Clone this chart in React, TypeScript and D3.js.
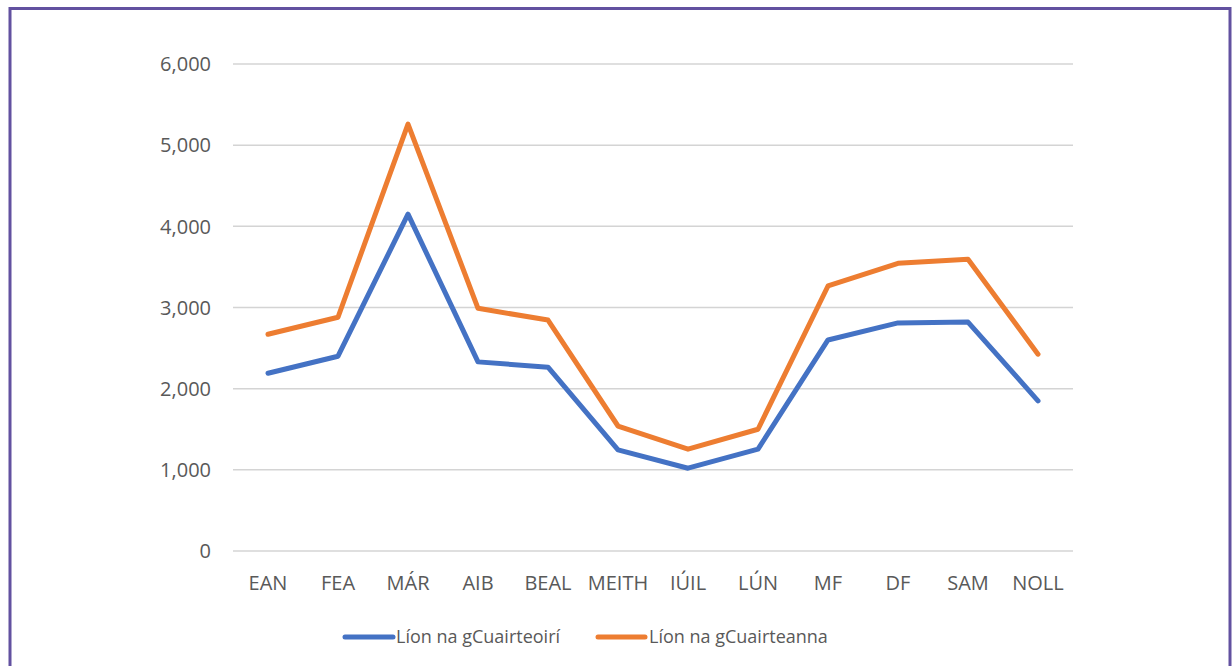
import React from "react";
import * as d3 from "d3";

const months = ["EAN", "FEA", "MÁR", "AIB", "BEAL", "MEITH", "IÚIL", "LÚN", "MF", "DF", "SAM", "NOLL"];
const visitors = [2190, 2400, 4150, 2330, 2265, 1245, 1020, 1255, 2600, 2810, 2820, 1850];
const visits = [2670, 2880, 5260, 2990, 2845, 1540, 1255, 1500, 3265, 3545, 3595, 2425];
const yTicks = [0, 1000, 2000, 3000, 4000, 5000, 6000];
const seriesNames = ["Líon na gCuairteoirí", "Líon na gCuairteanna"];
const seriesColors = ["#4472c4", "#ed7d31"];

export default function App() {
  const W = 1232, H = 666;
  const x = d3.scaleBand<string>().domain(months).range([233, 1073]);
  const y = d3.scaleLinear().domain([0, 6000]).range([551, 64]);
  const fmt = d3.format(",");
  const line = d3
    .line<number>()
    .x((_, i) => (x(months[i]) as number) + x.bandwidth() / 2)
    .y((d) => y(d));
  const font = "'Open Sans', sans-serif";
  const textColor = "#595959";
  const legend = [
    { x1: 345, x2: 393, tx: 396 },
    { x1: 598, x2: 645, tx: 649 },
  ];
  return (
    <svg
      width={W}
      height={H}
      style={{ position: "absolute", left: 0, top: 0, background: "#fff" }}
    >
      <rect x={10} y={8.5} width={1220} height={700} fill="#fff" stroke="#6251a0" strokeWidth={3} />
      {yTicks.map((t) => (
        <g key={t}>
          <line x1={233} x2={1073} y1={y(t)} y2={y(t)} stroke="#d4d4d4" strokeWidth={1.5} />
          <text
            x={211}
            y={y(t)}
            dy="0.36em"
            textAnchor="end"
            fontFamily={font}
            fontSize={20}
            fill={textColor}
          >
            {fmt(t)}
          </text>
        </g>
      ))}
      {months.map((m) => (
        <text
          key={m}
          x={(x(m) as number) + x.bandwidth() / 2}
          y={590}
          textAnchor="middle"
          fontFamily={font}
          fontSize={20}
          fill={textColor}
        >
          {m}
        </text>
      ))}
      {[visitors, visits].map((s, i) => (
        <path
          key={i}
          d={line(s) as string}
          fill="none"
          stroke={seriesColors[i]}
          strokeWidth={5}
          strokeLinejoin="round"
          strokeLinecap="round"
        />
      ))}
      {legend.map((l, i) => (
        <g key={i}>
          <line
            x1={l.x1}
            x2={l.x2}
            y1={637}
            y2={637}
            stroke={seriesColors[i]}
            strokeWidth={5}
            strokeLinecap="round"
          />
          <text
            x={l.tx}
            y={637}
            dy="0.36em"
            fontFamily={font}
            fontSize={18}
            fill={textColor}
          >
            {seriesNames[i]}
          </text>
        </g>
      ))}
    </svg>
  );
}
